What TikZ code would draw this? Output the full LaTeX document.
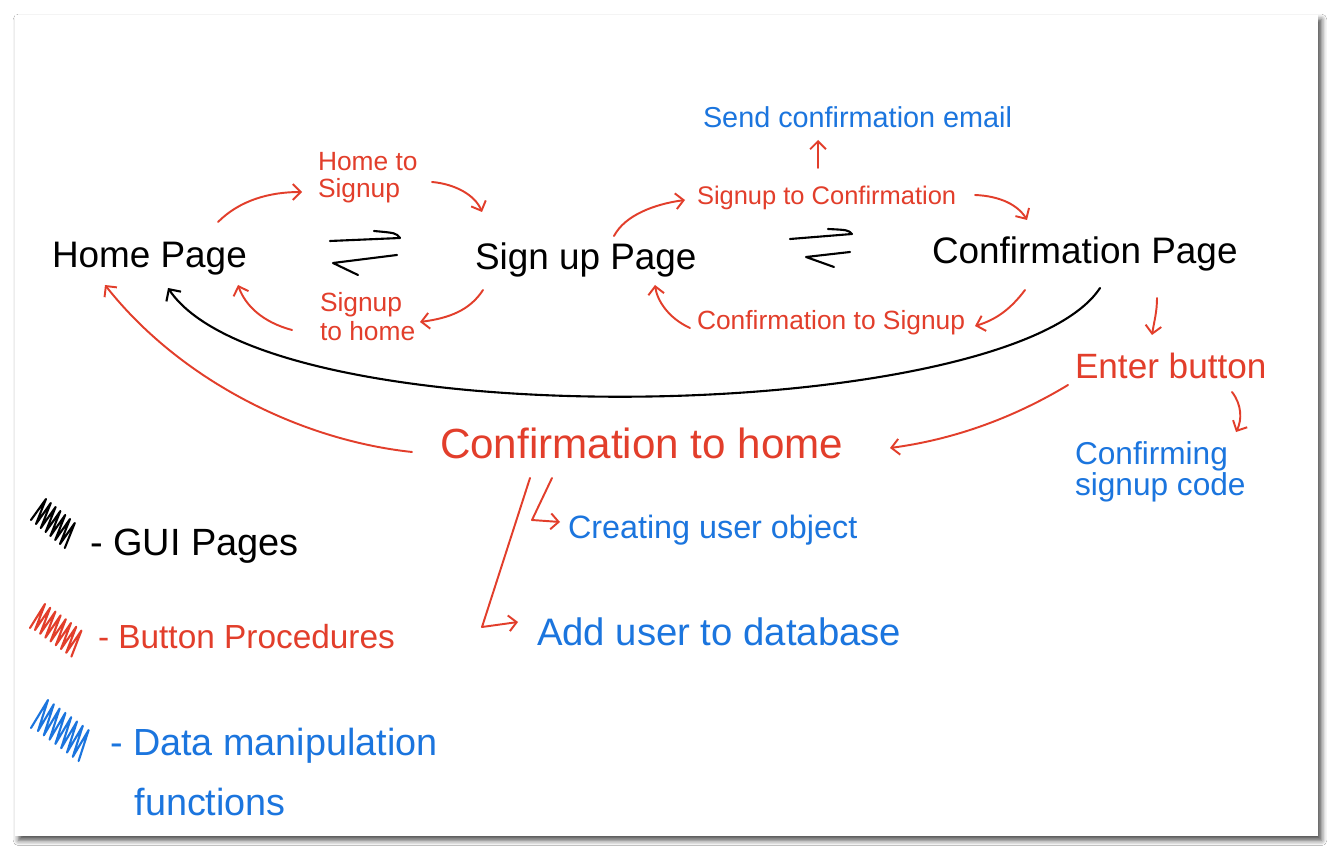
\documentclass[tikz,border=0pt]{standalone}
\usepackage{fontspec}
\setmainfont{Liberation Sans}
\usetikzlibrary{arrows.meta,calc,shadows.blur}
\definecolor{hred}{RGB}{226,62,43}
\definecolor{hblue}{RGB}{27,117,222}
\begin{document}
\begin{tikzpicture}[x=0.02cm,y=-0.02cm,
  every node/.style={inner sep=0pt,outer sep=0pt},
  page/.style={text=black,font=\fontsize{21}{25}\selectfont},
  btn/.style={text=hred},
  dat/.style={text=hblue},
  rarr/.style={draw=hred,line width=1.1pt,line cap=round,line join=round,-{Straight Barb[length=4.5pt,width=9pt]}},
  karr/.style={draw=black,line width=1.2pt,line cap=round,-{Straight Barb[length=5pt,width=10pt]}},
  eqarr/.style={draw=black,line width=1.2pt,line cap=round,line join=round},
  scrib/.style={line width=1.2pt,line join=round,line cap=round}]
\useasboundingbox (0,0) rectangle (1344,864);
\fill[white] (0,0) rectangle (1344,864);
\fill[white,blur shadow={shadow xshift=2pt,shadow yshift=-2.5pt,shadow blur radius=3pt,shadow opacity=70}] (15,15) rectangle (1318,836);

% GUI pages
\node[page,anchor=base west] (home) at (52,268) {Home Page};
\node[page,anchor=base west] (signup) at (475,270) {Sign up Page};
\node[page,anchor=base west] (confp) at (932,264) {Confirmation Page};

% button procedures
\node[btn,anchor=north west,align=left,font=\fontsize{15}{15.5}\selectfont] (h2s) at (318,152) {Home to\\Signup};
\node[btn,anchor=north west,align=left,font=\fontsize{15}{16.5}\selectfont] (s2h) at (320,292) {Signup\\to home};
\node[btn,anchor=base west,font=\fontsize{14.5}{17}\selectfont] (s2c) at (697,205) {Signup to Confirmation};
\node[btn,anchor=base west,font=\fontsize{15}{17}\selectfont] (c2s) at (697,330) {Confirmation to Signup};
\node[btn,anchor=base west,font=\fontsize{20}{24}\selectfont] (enter) at (1075,378) {Enter button};
\node[btn,anchor=base west,font=\fontsize{24}{28}\selectfont] (c2h) at (440,458) {Confirmation to home};

% data manipulation
\node[dat,anchor=base west,font=\fontsize{16.4}{19}\selectfont] (email) at (703,128) {Send confirmation email};
\node[dat,anchor=north west,align=left,font=\fontsize{18}{17.5}\selectfont] (code) at (1075,442) {Confirming\\signup code};
\node[dat,anchor=base west,font=\fontsize{18.4}{22}\selectfont] (userobj) at (568,538) {Creating user object};
\node[dat,anchor=base west,font=\fontsize{21.8}{26}\selectfont] (adddb) at (537,645) {Add user to database};

% equilibrium arrows
\draw[eqarr] (330,241) -- (400,238) .. controls (396,233) .. (374,231);
\draw[eqarr] (397,255) -- (333,263) -- (358,275);
\draw[eqarr] (790,239) -- (852,234) .. controls (848,230) .. (828,229);
\draw[eqarr] (850,252) -- (806,257) -- (834,267);

% connectors
\draw[rarr] ($(home.base west)+(166,-46)$) .. controls (240,200) and (270,192) .. ($(h2s.north west)+(-16,40)$);
\draw[rarr] ($(h2s.north west)+(114,30)$) .. controls (455,184) and (475,195) .. ($(signup.base west)+(7,-58)$);
\draw[rarr] ($(signup.base west)+(8,20)$) .. controls (470,310) and (450,318) .. ($(s2h.north west)+(100,30)$);
\draw[rarr] ($(s2h.north west)+(-28,38)$) .. controls (262,322) and (245,305) .. ($(home.base west)+(186,17)$);
\draw[rarr] ($(signup.base west)+(139,-34)$) .. controls (625,215) and (655,204) .. ($(s2c.base west)+(-12,-5)$);
\draw[rarr] ($(s2c.base west)+(278,-10)$) .. controls (1000,196) and (1018,205) .. ($(confp.base west)+(95,-44)$);
\draw[rarr] ($(s2c.base west)+(121,-37)$) -- ($(email.base west)+(115,12)$);
\draw[rarr] ($(confp.base west)+(93,26)$) .. controls (1010,310) and (995,320) .. ($(c2s.base west)+(278,-4)$);
\draw[rarr] ($(c2s.base west)+(-7,-2)$) .. controls (668,318) and (657,300) .. ($(signup.base west)+(180,15)$);
\draw[karr] ($(confp.base west)+(168,24)$) .. controls (1010,425) and (270,440) .. ($(home.base west)+(116,20)$);
\draw[rarr] ($(confp.base west)+(225,34)$) .. controls (1157,312) and (1154,322) .. ($(enter.base west)+(77,-43)$);
\draw[rarr] ($(enter.base west)+(157,14)$) .. controls (1242,405) and (1242,420) .. ($(code.north west)+(161,-10)$);
\draw[rarr] ($(enter.base west)+(-7,7)$) .. controls (1010,420) and (950,440) .. ($(c2h.base west)+(450,-10)$);
\draw[rarr] ($(c2h.base west)+(-28,-6)$) .. controls (300,440) and (180,380) .. ($(home.base west)+(53,17)$);
\draw[rarr] ($(c2h.base west)+(112,20)$) -- (532,520) -- ($(userobj.base west)+(-8,-16)$);
\draw[rarr] ($(c2h.base west)+(90,20)$) -- (482,627) -- ($(adddb.base west)+(-19,-23)$);

% legend
\draw[scrib,black] (31,520) \foreach \i in {0,...,6}{ -- ({46+4.8*\i},{499+4*\i}) -- ({36+4.8*\i},{524+4*\i}) };
\draw[scrib,hred] (30,628) \foreach \i in {0,...,7}{ -- ({45+5.2*\i},{604+3.8*\i}) -- ({35+5.2*\i},{630+3.8*\i}) };
\draw[scrib,hblue] (31,728) \foreach \i in {0,...,7}{ -- ({48+5.8*\i},{700+4.3*\i}) -- ({38+5.8*\i},{731+4.3*\i}) };
\node[anchor=base west,text=black,font=\fontsize{21.6}{26}\selectfont] (leg1) at (90,555) {- GUI Pages};
\node[btn,anchor=base west,font=\fontsize{19}{23}\selectfont] (leg2) at (98,648) {- Button Procedures};
\node[dat,anchor=north west,align=left,font=\fontsize{21.5}{34}\selectfont] (leg3) at (110,728) {- Data manipulation\\\hspace*{14pt}functions};
\end{tikzpicture}
\end{document}
